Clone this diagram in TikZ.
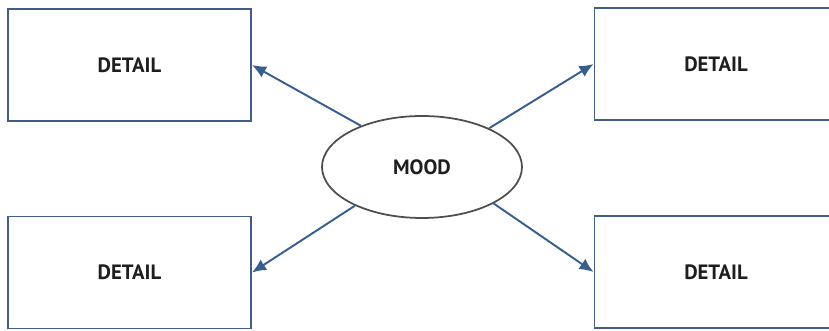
\documentclass[tikz,border=0pt]{standalone}
\usepackage{fontspec}
\setmainfont{PT Sans}
\usetikzlibrary{arrows.meta,shapes.geometric}
\definecolor{boxblue}{RGB}{66,94,136}
\definecolor{arrowblue}{RGB}{56,94,142}
\definecolor{ringgray}{RGB}{78,78,78}
\definecolor{txtgray}{RGB}{30,30,30}
\begin{document}
\begin{tikzpicture}[>={Latex[length=8pt,width=7pt]},
    detailbox/.style={draw=boxblue, line width=1.1pt, minimum width=4.86cm, minimum height=2.24cm,
        font=\fontsize{11.8}{14}\selectfont\bfseries, text=txtgray},
    moodnode/.style={ellipse, draw=ringgray, line width=1pt, inner sep=0pt, minimum width=4cm, minimum height=2.04cm,
        font=\fontsize{11.8}{14}\selectfont\bfseries, text=txtgray}]

    \clip (0, 0) rectangle (16.58, 6.62);

    % 中心
    \node[moodnode] (mood) at (8.44, 3.28) {MOOD};

    % 四个细节
    \node[detailbox] (tl) at (2.59, 5.32) {DETAIL};
    \node[detailbox] (bl) at (2.59, 1.17) {DETAIL};
    \node[detailbox] (tr) at (14.32, 5.34) {DETAIL};
    \node[detailbox] (br) at (14.32, 1.18) {DETAIL};

    % 箭头
    \draw[->, arrowblue, line width=1.1pt] (mood.146) -- (tl.east);
    \draw[->, arrowblue, line width=1.1pt] (mood.210) -- (bl.east);
    \draw[->, arrowblue, line width=1.1pt] (mood.30) -- (tr.west);
    \draw[->, arrowblue, line width=1.1pt] (mood.-27) -- (br.west);

\end{tikzpicture}
\end{document}
